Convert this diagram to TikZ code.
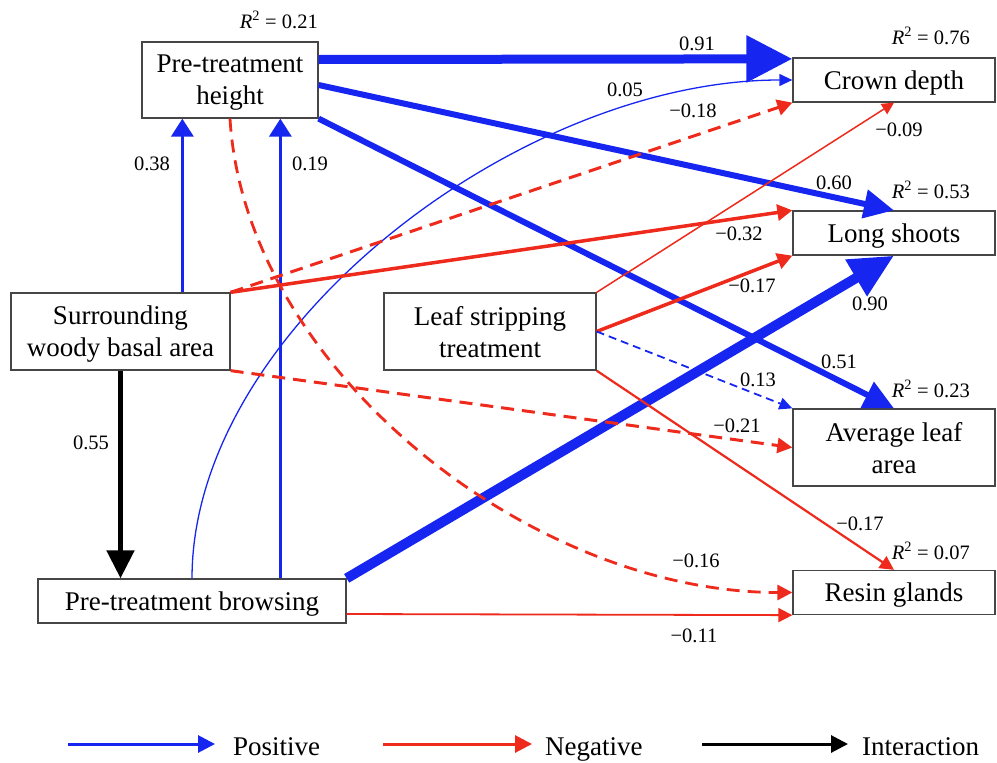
\documentclass[tikz,border=0pt]{standalone}
\usepackage{fontspec}
\setmainfont{Liberation Serif}
\usetikzlibrary{arrows.meta,calc}
\definecolor{posblue}{RGB}{22,38,240}
\definecolor{negred}{RGB}{238,42,28}
\definecolor{boxgray}{RGB}{70,70,70}
\begin{document}
\begin{tikzpicture}[x=1pt,y=-1pt,
 box/.style={draw=boxgray,line width=1.3pt,fill=white,inner sep=0pt,align=center,text depth=0pt,font=\fontsize{27}{32}\selectfont},
 lbl/.style={font=\fontsize{20.5}{24}\selectfont,inner sep=0pt},
 rsq/.style={font=\fontsize{20.5}{24}\selectfont,inner sep=0pt,anchor=base east},
 leg/.style={font=\fontsize{27}{32}\selectfont,inner sep=0pt,anchor=base west},
 posline/.style={draw=posblue},
 negline/.style={draw=negred},
 ialine/.style={draw=black},
 arrtip/.style 2 args={-{Triangle[length=#1,width=#2]}},
 dshl/.style={dash pattern=on 13pt off 8pt},
 dshsm/.style={dash pattern=on 8pt off 5pt},
]
\useasboundingbox (0,0) rectangle (997,763);

% boxes
\node[box,minimum width=176pt,minimum height=76pt] (pth) at (230,80) {Pre-treatment\\height};
\node[box,minimum width=219pt,minimum height=77pt] (swba) at (120.5,331.5) {Surrounding\\woody basal area};
\node[box,minimum width=212pt,minimum height=77pt] (lst) at (490,331.5) {Leaf stripping\\treatment};
\node[box,minimum width=202pt,minimum height=44pt] (cd) at (894,80) {Crown depth};
\node[box,minimum width=202pt,minimum height=44pt] (ls) at (894,233) {Long shoots};
\node[box,minimum width=202pt,minimum height=77pt] (ala) at (894,447.5) {Average leaf\\area};
\node[box,minimum width=202pt,minimum height=44pt] (rg) at (894,592.5) {Resin glands};
\node[box,minimum width=308pt,minimum height=44pt] (ptb) at (192,601) {Pre-treatment browsing};

% helper coordinates on borders
\coordinate (s38) at ($(swba.north west)+(172,0)$);
\coordinate (s19) at ($(ptb.north west)+(243,0)$);
\coordinate (s11) at ($(ptb.east)+(0,13)$);
\coordinate (s91) at ($(pth.east)+(0,-20.5)$);
\coordinate (e91) at ($(cd.north west)+(0,1.5)$);
\coordinate (s60) at ($(pth.east)+(0,5)$);

% connectors
\draw[posline,line width=9pt,arrtip={46pt}{45pt}] (s91) -- (e91);
\draw[posline,line width=6pt,arrtip={30pt}{28pt}] (s60) -- (ls.north);
\draw[posline,line width=6pt,arrtip={30pt}{28pt}] (pth.south east) -- (ala.north);
\draw[posline,line width=10pt,arrtip={44pt}{40pt}] (ptb.north east) -- (ls.south);
\draw[posline,line width=3.5pt,arrtip={18pt}{22pt}] (s38) -- (s38 |- pth.south);
\draw[posline,line width=3.5pt,arrtip={18pt}{22pt}] (s19) -- (s19 |- pth.south);
\draw[ialine,line width=5pt,arrtip={28pt}{27pt}] (swba.south) -- (swba.south |- ptb.north);
\draw[posline,line width=1.3pt,arrtip={13pt}{12pt}] (ptb.north) .. controls +(0,-249) and +(-273,0) .. (cd.west);
\draw[negline,dshl,line width=2.8pt,arrtip={15pt}{15pt}] (pth.south) .. controls +(15,250) and +(-262,0) .. (rg.west);
\draw[negline,dshl,line width=3pt,arrtip={15pt}{16pt}] (swba.north east) -- (cd.south west);
\draw[negline,line width=3.5pt,arrtip={15pt}{16pt}] (swba.north east) -- (ls.north west);
\draw[negline,dshl,line width=3pt,arrtip={15pt}{15pt}] (swba.south east) -- (ala.west);
\draw[negline,line width=1.5pt,arrtip={12pt}{12pt}] (lst.north east) -- (cd.south);
\draw[negline,line width=3.5pt,arrtip={15pt}{16pt}] (lst.east) -- (ls.south west);
\draw[posline,dshsm,line width=1.8pt,arrtip={13pt}{12pt}] (lst.east) -- (ala.north west);
\draw[negline,line width=2.2pt,arrtip={14pt}{14pt}] (lst.south east) -- (rg.north);
\draw[negline,line width=1.8pt,arrtip={14pt}{14pt}] (s11) -- (rg.south west);

% path coefficients
\node[lbl] (l91) at (697,44) {0.91};
\node[lbl] (l05) at (625,90) {0.05};
\node[lbl] (l18) at (693,111) {−0.18};
\node[lbl] (l09) at (899,130) {−0.09};
\node[lbl] (l60) at (834,183) {0.60};
\node[lbl] (l32) at (739,234) {−0.32};
\node[lbl] (l17a) at (752,286) {−0.17};
\node[lbl] (l90) at (870,304) {0.90};
\node[lbl] (l51) at (839,362) {0.51};
\node[lbl] (l13) at (758,380) {0.13};
\node[lbl] (l21) at (737,426) {−0.21};
\node[lbl] (l17b) at (860,524) {−0.17};
\node[lbl] (l16) at (696,561) {−0.16};
\node[lbl] (l11) at (694,636) {−0.11};
\node[lbl] (l38) at (152,164) {0.38};
\node[lbl] (l19) at (310,164) {0.19};
\node[lbl] (l55) at (91,443) {0.55};

% R squared
\node[rsq] (r21) at (318,28) {\textit{R}\textsuperscript{2} = 0.21};
\node[rsq] (r76) at (970,44) {\textit{R}\textsuperscript{2} = 0.76};
\node[rsq] (r53) at (970,198) {\textit{R}\textsuperscript{2} = 0.53};
\node[rsq] (r23) at (970,397) {\textit{R}\textsuperscript{2} = 0.23};
\node[rsq] (r07) at (970,559) {\textit{R}\textsuperscript{2} = 0.07};

% legend
\coordinate (lp1) at (68,744); \coordinate (lp2) at (215,744);
\coordinate (ln1) at (383,744); \coordinate (ln2) at (532,744);
\coordinate (li1) at (702,744); \coordinate (li2) at (848,744);
\draw[posline,line width=3pt,arrtip={17pt}{17pt}] (lp1) -- (lp2);
\draw[negline,line width=3pt,arrtip={17pt}{17pt}] (ln1) -- (ln2);
\draw[ialine,line width=3pt,arrtip={17pt}{17pt}] (li1) -- (li2);
\node[leg] (tpos) at (233,755) {Positive};
\node[leg] (tneg) at (545,755) {Negative};
\node[leg] (tint) at (862,755) {Interaction};
\end{tikzpicture}
\end{document}
